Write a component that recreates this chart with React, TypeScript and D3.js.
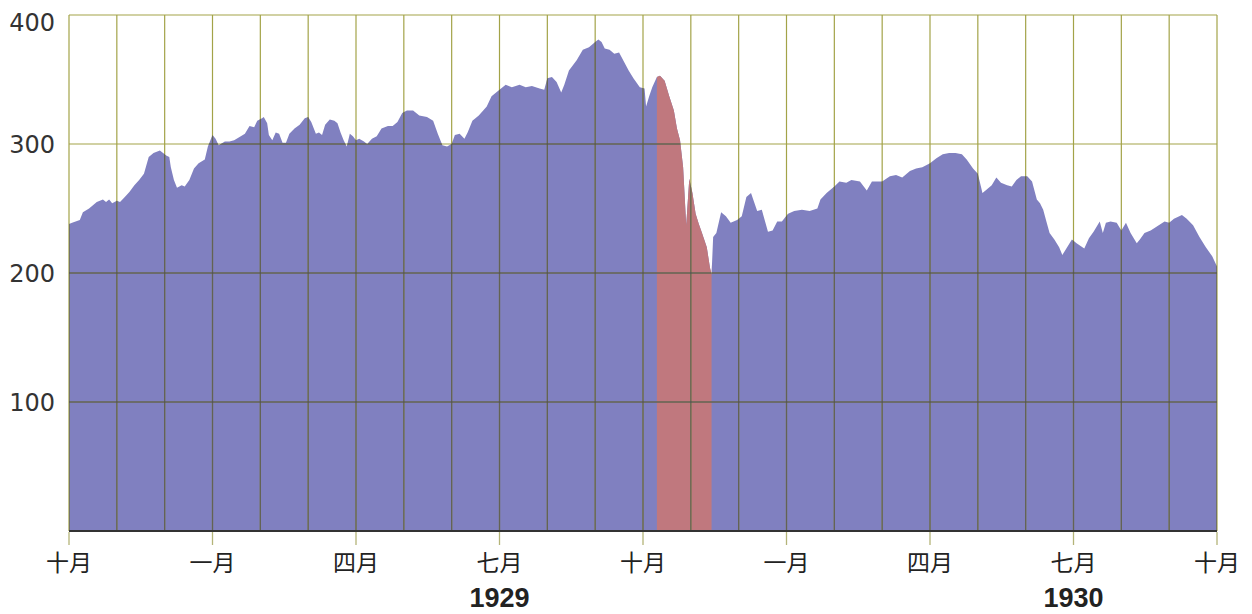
import React from "react";
import * as d3 from "d3";

// Dow Jones Industrial Average, Oct 1928 – Oct 1930
const dowSeries: [string, number][] = [
  ["1928-10-01", 238], ["1928-10-03", 239], ["1928-10-08", 241], ["1928-10-10", 247],
  ["1928-10-14", 250], ["1928-10-19", 255], ["1928-10-23", 257], ["1928-10-25", 255],
  ["1928-10-27", 257], ["1928-10-29", 254], ["1928-11-01", 256], ["1928-11-03", 255],
  ["1928-11-06", 259], ["1928-11-09", 263], ["1928-11-12", 268], ["1928-11-15", 272],
  ["1928-11-18", 277], ["1928-11-21", 290], ["1928-11-24", 293], ["1928-11-28", 295],
  ["1928-11-30", 293], ["1928-12-02", 291], ["1928-12-04", 290], ["1928-12-05", 282],
  ["1928-12-07", 272], ["1928-12-09", 266], ["1928-12-12", 268], ["1928-12-14", 267],
  ["1928-12-17", 272], ["1928-12-20", 281], ["1928-12-23", 285], ["1928-12-27", 288],
  ["1928-12-29", 298],
  ["1929-01-01", 307], ["1929-01-03", 304], ["1929-01-05", 299], ["1929-01-09", 302],
  ["1929-01-12", 302], ["1929-01-15", 303], ["1929-01-18", 305], ["1929-01-22", 308],
  ["1929-01-25", 314], ["1929-01-28", 313], ["1929-01-30", 318], ["1929-02-02", 320],
  ["1929-02-03", 321], ["1929-02-05", 316], ["1929-02-06", 307], ["1929-02-08", 303],
  ["1929-02-10", 309], ["1929-02-12", 308], ["1929-02-14", 301], ["1929-02-16", 301],
  ["1929-02-18", 308], ["1929-02-21", 312], ["1929-02-24", 315], ["1929-02-27", 320],
  ["1929-03-01", 321], ["1929-03-03", 317], ["1929-03-06", 308], ["1929-03-08", 309],
  ["1929-03-10", 307], ["1929-03-12", 315], ["1929-03-15", 319], ["1929-03-18", 318],
  ["1929-03-20", 316], ["1929-03-22", 309], ["1929-03-24", 303], ["1929-03-26", 298],
  ["1929-03-28", 308], ["1929-03-30", 306], ["1929-04-01", 303], ["1929-04-03", 304],
  ["1929-04-06", 302], ["1929-04-08", 300], ["1929-04-11", 304], ["1929-04-14", 306],
  ["1929-04-17", 312], ["1929-04-21", 314], ["1929-04-24", 314], ["1929-04-27", 317],
  ["1929-04-30", 324], ["1929-05-03", 326], ["1929-05-07", 326], ["1929-05-11", 322],
  ["1929-05-16", 321], ["1929-05-20", 318], ["1929-05-23", 308], ["1929-05-26", 299],
  ["1929-05-29", 298], ["1929-06-01", 300], ["1929-06-03", 307], ["1929-06-06", 308],
  ["1929-06-09", 304], ["1929-06-11", 309], ["1929-06-14", 318], ["1929-06-18", 322],
  ["1929-06-23", 329], ["1929-06-26", 337], ["1929-07-01", 342], ["1929-07-05", 346],
  ["1929-07-09", 344], ["1929-07-14", 346], ["1929-07-18", 344], ["1929-07-22", 345],
  ["1929-07-27", 343], ["1929-07-30", 342], ["1929-08-01", 351], ["1929-08-04", 352],
  ["1929-08-07", 348], ["1929-08-10", 340], ["1929-08-12", 346], ["1929-08-15", 357],
  ["1929-08-20", 365], ["1929-08-24", 373], ["1929-08-28", 375], ["1929-09-01", 379],
  ["1929-09-03", 381], ["1929-09-05", 379], ["1929-09-07", 374], ["1929-09-10", 373],
  ["1929-09-13", 370], ["1929-09-16", 371], ["1929-09-19", 364], ["1929-09-22", 357],
  ["1929-09-25", 351], ["1929-09-29", 344], ["1929-10-02", 343], ["1929-10-03", 329],
  ["1929-10-05", 337], ["1929-10-07", 344], ["1929-10-10", 352], ["1929-10-12", 353],
  ["1929-10-15", 349], ["1929-10-18", 337], ["1929-10-21", 326], ["1929-10-23", 312],
  ["1929-10-25", 303], ["1929-10-27", 282], ["1929-10-29", 237], ["1929-10-31", 273],
  ["1929-11-02", 262], ["1929-11-04", 246], ["1929-11-06", 238], ["1929-11-08", 231],
  ["1929-11-11", 220], ["1929-11-13", 204], ["1929-11-14", 199], ["1929-11-15", 228],
  ["1929-11-17", 231], ["1929-11-20", 247], ["1929-11-23", 244], ["1929-11-26", 239],
  ["1929-11-30", 241], ["1929-12-03", 244], ["1929-12-06", 259], ["1929-12-09", 262],
  ["1929-12-11", 255], ["1929-12-13", 248], ["1929-12-16", 249], ["1929-12-20", 232],
  ["1929-12-23", 233], ["1929-12-26", 240], ["1929-12-29", 240],
  ["1930-01-02", 246], ["1930-01-06", 248], ["1930-01-11", 249], ["1930-01-16", 248],
  ["1930-01-21", 250], ["1930-01-23", 257], ["1930-01-27", 262], ["1930-02-01", 267],
  ["1930-02-04", 271], ["1930-02-08", 270], ["1930-02-11", 272], ["1930-02-16", 271],
  ["1930-02-20", 264], ["1930-02-23", 271], ["1930-03-01", 271], ["1930-03-06", 275],
  ["1930-03-10", 276], ["1930-03-14", 274], ["1930-03-19", 279], ["1930-03-23", 281],
  ["1930-03-27", 282], ["1930-04-01", 285], ["1930-04-05", 289], ["1930-04-09", 292],
  ["1930-04-13", 293], ["1930-04-17", 293], ["1930-04-21", 292], ["1930-04-24", 288],
  ["1930-04-28", 281], ["1930-05-01", 277], ["1930-05-03", 267], ["1930-05-04", 262],
  ["1930-05-06", 264], ["1930-05-10", 268], ["1930-05-13", 274], ["1930-05-16", 270],
  ["1930-05-20", 268], ["1930-05-23", 267], ["1930-05-26", 272], ["1930-05-29", 275],
  ["1930-06-02", 275], ["1930-06-05", 271], ["1930-06-08", 257], ["1930-06-10", 254],
  ["1930-06-12", 249], ["1930-06-14", 240], ["1930-06-16", 231], ["1930-06-19", 226],
  ["1930-06-22", 220], ["1930-06-24", 214], ["1930-06-27", 220], ["1930-06-30", 226],
  ["1930-07-03", 223], ["1930-07-08", 219], ["1930-07-11", 227], ["1930-07-14", 232],
  ["1930-07-18", 240], ["1930-07-20", 231], ["1930-07-22", 239], ["1930-07-25", 240],
  ["1930-07-29", 239], ["1930-08-01", 233], ["1930-08-04", 239], ["1930-08-07", 231],
  ["1930-08-11", 223], ["1930-08-13", 226], ["1930-08-16", 231], ["1930-08-20", 233],
  ["1930-08-24", 236], ["1930-08-29", 240], ["1930-09-01", 239], ["1930-09-04", 242],
  ["1930-09-09", 245], ["1930-09-12", 242], ["1930-09-16", 237], ["1930-09-20", 228],
  ["1930-09-24", 220], ["1930-09-28", 213], ["1930-10-01", 205],
];

const crashPeriod: [string, string] = ["1929-10-10", "1929-11-14"];
const rangeStart = "1928-10-01";
const rangeEnd = "1930-10-01";
const monthNames = ["一月", "二月", "三月", "四月", "五月", "六月", "七月", "八月", "九月", "十月", "十一月", "十二月"];
const yTicks = [100, 200, 300, 400];
const yearLabels: [string, string][] = [["1929", "1929-07-01"], ["1930", "1930-07-01"]];

const W = 1252, H = 614;
const plotLeft = 69, plotRight = 1217, plotTop = 15, plotBottom = 531;

// convert date string to fractional month index from start (months are equally spaced)
function monthIndex(s: string): number {
  const [y, m, d] = s.split("-").map(Number);
  const [y0, m0] = rangeStart.split("-").map(Number);
  const dim = new Date(y, m, 0).getDate();
  return (y - y0) * 12 + (m - m0) + (d - 1) / dim;
}

export default function App() {
  const totalMonths = monthIndex(rangeEnd);
  const x = d3.scaleLinear().domain([0, totalMonths]).range([plotLeft, plotRight]);
  const y = d3.scaleLinear().domain([0, 400]).range([plotBottom, plotTop]);
  const pts = dowSeries.map(([d, v]) => ({ m: monthIndex(d), v }));
  const area = d3.area<{ m: number; v: number }>()
    .x((p) => x(p.m)).y0(y(0)).y1((p) => y(p.v)).curve(d3.curveLinear);
  const areaPath = area(pts) || "";
  const cx0 = x(monthIndex(crashPeriod[0]));
  const cx1 = x(monthIndex(crashPeriod[1]));

  const months = d3.range(0, Math.round(totalMonths) + 1);
  const [, m0] = rangeStart.split("-").map(Number);

  const gridLines = (stroke: string, opacity: number, width: number) => (
    <g>
      {yTicks.map((t) => (
        <line key={"h" + t} x1={plotLeft} x2={plotRight} y1={y(t)} y2={y(t)}
          stroke={stroke} strokeOpacity={opacity} strokeWidth={width} />
      ))}
      {months.map((i) => (
        <line key={"v" + i} x1={x(i)} x2={x(i)} y1={plotTop} y2={plotBottom}
          stroke={stroke} strokeOpacity={opacity} strokeWidth={width} />
      ))}
    </g>
  );

  return (
    <svg width={W} height={H} style={{ position: "absolute", left: 0, top: 0, background: "#fff" }}>
      <defs>
        <clipPath id="crashClip">
          <rect x={cx0} y={plotTop} width={cx1 - cx0} height={plotBottom - plotTop} />
        </clipPath>
        <clipPath id="areaClip">
          <path d={areaPath} />
        </clipPath>
      </defs>
      <path d={areaPath} fill="#8080c0" />
      <path d={areaPath} fill="#c0787e" clipPath="url(#crashClip)" />
      {/* grid: olive on white, darker inside the filled area */}
      {gridLines("#a3a348", 1, 1.2)}
      <g clipPath="url(#areaClip)">{gridLines("#4e4e58", 0.75, 1.3)}</g>
      {/* baseline */}
      <line x1={plotLeft} x2={plotRight} y1={plotBottom} y2={plotBottom} stroke="#333" strokeWidth={2} />
      {/* x ticks and labels */}
      {months.filter((i) => i % 3 === 0).map((i) => {
        const name = monthNames[(m0 - 1 + i) % 12];
        return (
          <g key={"t" + i}>
            <line x1={x(i)} x2={x(i)} y1={plotBottom + 1} y2={plotBottom + 14} stroke="#b4b478" strokeWidth={1.3} />
            <text x={x(i)} y={571} textAnchor="middle" fontSize={23}
              fontFamily="'Noto Sans CJK SC', sans-serif" fill="#222">{name}</text>
          </g>
        );
      })}
      {/* year labels */}
      {yearLabels.map(([lab, d]) => (
        <text key={lab} x={x(monthIndex(d))} y={607} textAnchor="middle" fontSize={27}
          fontWeight="bold" fontFamily="'Liberation Sans', Arial, sans-serif" fill="#222">{lab}</text>
      ))}
      {/* y labels */}
      {yTicks.map((t) => (
        <text key={"y" + t} x={55} y={Math.max(y(t), 22)} dy="0.36em" textAnchor="end" fontSize={24}
          fontFamily="'DejaVu Sans', sans-serif" fill="#333">{t}</text>
      ))}
    </svg>
  );
}
